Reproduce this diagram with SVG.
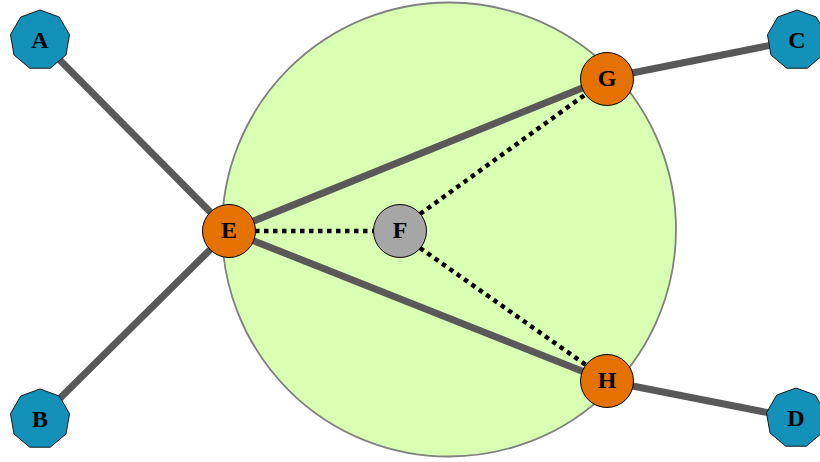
<svg xmlns="http://www.w3.org/2000/svg" xmlns:xlink="http://www.w3.org/1999/xlink" width="820" height="462" viewBox="0 0 820 462">
<style>
.edge{stroke:#595959;stroke-width:7;fill:none}
.dot{stroke:#000;stroke-width:4.5;stroke-dasharray:4.5 4.5;fill:none}
.outer{fill:#1391b9;stroke:#1a1a1a;stroke-width:1}
.inner{fill:#e57200;stroke:#000;stroke-width:1}
.mid{fill:#a6a6a6;stroke:#000;stroke-width:1}
text{font-family:"Liberation Serif","DejaVu Serif",serif;font-weight:bold;font-size:24px;text-anchor:middle;dominant-baseline:central;fill:#000}
</style>
<defs>
<polygon id="nona" points="0,-30 19.28,-22.98 29.54,-5.21 25.98,15 10.26,28.19 -10.26,28.19 -25.98,15 -29.54,-5.21 -19.28,-22.98"/>
</defs>
<circle id="region" cx="449" cy="229.5" r="227" fill="#d9ffb3" stroke="#808080" stroke-width="1.8"/>
<g id="connectors">
<line class="edge" x1="40" y1="40" x2="229" y2="231"/>
<line class="edge" x1="40" y1="418" x2="229" y2="231"/>
<line class="edge" x1="229" y1="231" x2="607" y2="78"/>
<line class="edge" x1="229" y1="231" x2="607" y2="381"/>
<line class="edge" x1="607" y1="78" x2="797" y2="40"/>
<line class="edge" x1="607" y1="381" x2="795" y2="418"/>
<line class="dot" x1="255" y1="231" x2="374" y2="231"/>
<line class="dot" x1="420" y1="214" x2="586" y2="94"/>
<line class="dot" x1="420" y1="248" x2="586" y2="365"/>
</g>
<g id="A"><use xlink:href="#nona" class="outer" x="40" y="40"/><text x="40" y="40">A</text></g>
<g id="B"><use xlink:href="#nona" class="outer" x="40" y="419"/><text x="40" y="419">B</text></g>
<g id="C"><use xlink:href="#nona" class="outer" x="797" y="40"/><text x="797" y="40">C</text></g>
<g id="D"><use xlink:href="#nona" class="outer" x="796" y="418"/><text x="796" y="418">D</text></g>
<g id="E"><circle class="inner" cx="229" cy="231" r="26.5"/><text x="229" y="230">E</text></g>
<g id="F"><circle class="mid" cx="400" cy="231" r="26.5"/><text x="400" y="230">F</text></g>
<g id="G"><circle class="inner" cx="607" cy="79" r="26.5"/><text x="607" y="78">G</text></g>
<g id="H"><circle class="inner" cx="607" cy="381" r="26.5"/><text x="607" y="380">H</text></g>
</svg>
